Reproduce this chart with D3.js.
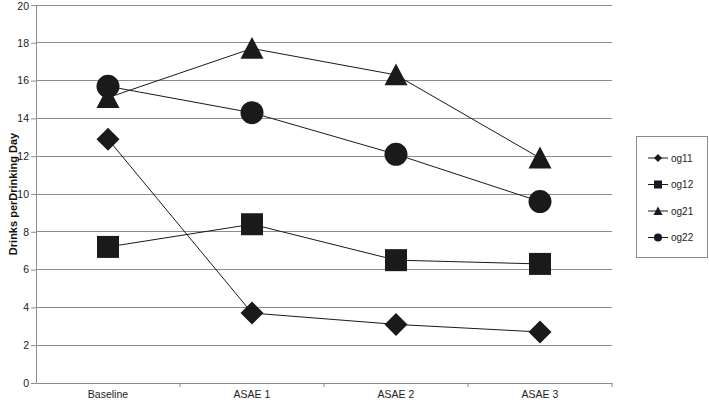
<!DOCTYPE html>
<html><head><meta charset="utf-8">
<script src="https://cdn.jsdelivr.net/npm/d3@7"></script>
<style>body{margin:0;background:#fff}svg{display:block;font-family:"Liberation Sans",Arial,sans-serif}</style>
</head><body><svg id="c" width="709" height="403"></svg>
<script>
const categories = ["Baseline", "ASAE 1", "ASAE 2", "ASAE 3"];
const og11 = [12.9, 3.7, 3.1, 2.7];
const og12 = [7.2, 8.4, 6.5, 6.3];
const og21 = [15.1, 17.7, 16.3, 11.9];
const og22 = [15.7, 14.3, 12.1, 9.6];
const yTicks = [0, 2, 4, 6, 8, 10, 12, 14, 16, 18, 20];
const seriesNames = ["og11", "og12", "og21", "og22"];
const seriesValues = [og11, og12, og21, og22];

const marker = [
  h => `M0,${-h}L${h},0L0,${h}L${-h},0Z`,
  h => `M${-h},${-h}H${h}V${h}H${-h}Z`,
  h => `M0,${-h}L${h},${h * 0.9}L${-h},${h * 0.9}Z`,
  h => { const p = d3.path(); p.arc(0, 0, h, 0, 2 * Math.PI); return p.toString(); }
];
const msize = [11.5, 11, 11.5, 11.5];
const lsize = [4, 4, 4.5, 4];

const svg = d3.select("#c");
const m = {l: 36, r: 612, t: 5, b: 383};
const x = d3.scaleBand().domain(categories).range([m.l, m.r]);
const y = d3.scaleLinear().domain([0, 20]).range([m.b, m.t]);

svg.append("g").selectAll("line").data(yTicks.filter(d => d > 0)).join("line")
  .attr("x1", m.l).attr("x2", m.r)
  .attr("y1", d => y(d)).attr("y2", d => y(d))
  .attr("stroke", "#8c8c8c").attr("stroke-width", 1).attr("shape-rendering", "crispEdges");

const ya = svg.append("g").attr("transform", `translate(${m.l},0)`)
  .call(d3.axisLeft(y).tickValues(yTicks).tickSize(5).tickSizeOuter(0).tickFormat(d3.format("d")));
ya.select(".domain").attr("stroke", "#8c8c8c");
ya.selectAll(".tick line").attr("stroke", "#8c8c8c");
ya.selectAll("text").attr("font-size", 10.5).attr("fill", "#222").attr("x", -7)
  .attr("font-family", "Liberation Sans, Arial, sans-serif")
  .attr("dy", d => d === 20 ? "0.45em" : "0.32em");

const xa = svg.append("g").attr("transform", `translate(0,${m.b})`)
  .call(d3.axisBottom(x).tickSize(0).tickSizeOuter(0));
xa.select(".domain").attr("stroke", "#8c8c8c");
xa.selectAll("text").attr("font-size", 10.5).attr("fill", "#222").attr("dy", "1.15em")
  .attr("font-family", "Liberation Sans, Arial, sans-serif");
svg.append("g").selectAll("line").data(categories.slice(1)).join("line")
  .attr("x1", d => x(d)).attr("x2", d => x(d))
  .attr("y1", m.b).attr("y2", m.b + 4).attr("stroke", "#8c8c8c");
svg.append("line").attr("x1", m.r).attr("x2", m.r).attr("y1", m.b).attr("y2", m.b + 4).attr("stroke", "#8c8c8c");

svg.append("text").attr("transform", `translate(17,${(m.t + m.b) / 2}) rotate(-90)`)
  .attr("text-anchor", "middle").attr("font-size", 11).attr("font-weight", "bold").attr("fill", "#111")
  .text("Drinks perDrinking Day");

const cx = d => x(d) + x.bandwidth() / 2;
const line = d3.line().x((d, i) => cx(categories[i])).y(d => y(d));

seriesValues.forEach(vals => {
  svg.append("path").attr("d", line(vals)).attr("fill", "none").attr("stroke", "#1a1a1a").attr("stroke-width", 1);
});
seriesValues.forEach((vals, s) => {
  svg.append("g").selectAll("path").data(vals).join("path")
    .attr("transform", (d, i) => `translate(${cx(categories[i])},${y(d)})`)
    .attr("d", marker[s](msize[s]))
    .attr("fill", "#1a1a1a");
});

const lg = svg.append("g");
lg.append("rect").attr("x", 636.5).attr("y", 136.5).attr("width", 71).attr("height", 121)
  .attr("fill", "#fff").attr("stroke", "#8c8c8c");
seriesNames.forEach((n, i) => {
  const yy = 158 + i * 26.5;
  lg.append("line").attr("x1", 648).attr("x2", 668).attr("y1", yy).attr("y2", yy).attr("stroke", "#1a1a1a");
  lg.append("path").attr("transform", `translate(658,${yy})`).attr("d", marker[i](lsize[i])).attr("fill", "#1a1a1a");
  lg.append("text").attr("x", 671).attr("y", yy).attr("dy", "0.35em").attr("font-size", 10).attr("fill", "#222").text(n);
});
</script></body></html>
